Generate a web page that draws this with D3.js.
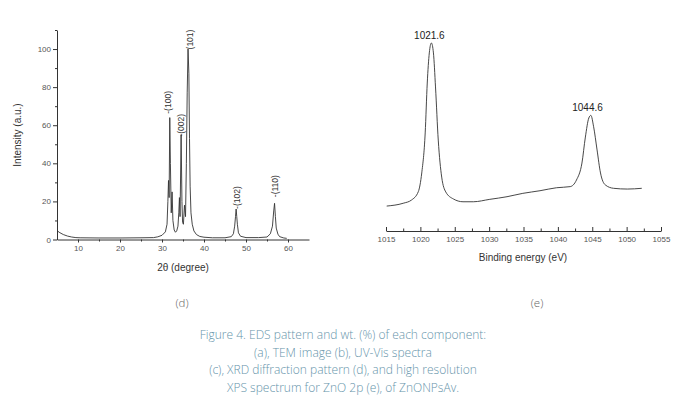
<!DOCTYPE html>
<html>
<head>
<meta charset="utf-8">
<script src="https://cdn.jsdelivr.net/npm/d3@7"></script>
<style>
  html, body { margin: 0; padding: 0; background: #fff; }
  svg { display: block; }
</style>
</head>
<body>
<svg id="chart" width="679" height="396"></svg>
<script>
// ---- XRD pattern (d) ----
const xrdTheta = [5.0, 5.5, 6.5, 7.5, 8.5, 9.5, 10.5, 15, 20, 25, 28, 29, 30, 30.8, 31.2, 31.4, 31.55, 31.7, 31.85, 32.0, 32.2, 32.4, 32.6, 32.9, 33.2, 33.5, 33.8, 34.0, 34.15, 34.3, 34.55, 34.75, 34.9, 35.1, 35.35, 35.6, 35.8, 36.0, 36.2, 36.4, 36.55, 36.7, 36.9, 37.2, 37.6, 38.2, 39, 40, 42, 45, 46.5, 47.0, 47.3, 47.5, 47.65, 47.8, 47.95, 48.2, 48.7, 50, 53, 55, 55.8, 56.3, 56.6, 56.8, 57.0, 57.2, 57.6, 58, 59, 59.7];
const xrdIntensity = [4.8, 3.8, 2.6, 1.8, 1.3, 1.0, 0.9, 0.8, 0.8, 0.9, 1.0, 1.4, 2.2, 4.0, 8, 20, 31, 22, 64, 40, 14, 25, 10, 5, 3.8, 4.5, 7, 14, 22, 12, 55, 20, 9, 8, 18, 12, 40, 77, 100, 87, 53, 28, 14, 8, 4.5, 2.6, 1.6, 1.2, 0.9, 0.9, 1.5, 3, 7, 12, 16, 12, 8, 3.5, 1.7, 1.0, 1.0, 1.3, 3, 7, 15, 19, 12, 6, 2.8, 1.5, 0.8, 0.6];
const xrdLabels = ["-(100)", "-(002)", "(101)", "-(102)", "-(110)"];
const xrdLabelTheta = [31.4, 34.5, 36.7, 47.9, 56.9];
const xrdLabelIntensity = [72, 60, 105, 22, 28];
const xrdXTicks = [10, 20, 30, 40, 50, 60];
const xrdYTicks = [0, 20, 40, 60, 80, 100];

// ---- XPS spectrum (e) ----
const xpsEnergy = [1015.1, 1017.5, 1018.7, 1019.7, 1020.2, 1020.7, 1021.0, 1021.3, 1021.6, 1021.9, 1022.2, 1022.6, 1023.1, 1023.7, 1024.8, 1026.2, 1027.7, 1030.1, 1032.6, 1034.9, 1037.4, 1039.8, 1041.8, 1042.7, 1043.5, 1044.0, 1044.5, 1044.8, 1045.2, 1045.7, 1046.2, 1046.9, 1048.1, 1050.1, 1052.2];
const xpsIntensity = [12.8, 14.3, 16.0, 20.5, 30.5, 51.9, 78.6, 94.7, 100, 94.7, 76.5, 48.1, 28.3, 20.3, 16.6, 15.1, 15.1, 16.4, 17.8, 19.6, 21.0, 22.6, 23.2, 26.7, 35.8, 49.7, 59.9, 61.3, 55.2, 42.8, 30.5, 24.1, 22.3, 21.9, 22.3];
const xpsPeakLabels = ["1021.6", "1044.6"];
const xpsPeakEnergy = [1021.6, 1044.6];
const xpsPeakIntensity = [100, 61.3];
const xpsXTicks = [1015, 1020, 1025, 1030, 1035, 1040, 1045, 1050, 1055];

// ---- Caption ----
const panelLabels = ["(d)", "(e)"];
const captionLines = [
  "Figure 4. EDS pattern and wt. (%) of each component:",
  "(a), TEM image (b), UV-Vis spectra",
  "(c), XRD diffraction pattern (d), and high resolution",
  "XPS spectrum for ZnO 2p (e), of ZnONPsAv."
];

const svg = d3.select("#chart");
const axisFont = "'Liberation Sans', Arial, sans-serif";

// ===== Left chart =====
const xL = d3.scaleLinear().domain([5, 65]).range([57, 309]);
const yL = d3.scaleLinear().domain([0, 110]).range([239.5, 30]);

const gL = svg.append("g");
const xAxisL = gL.append("g").attr("transform", `translate(0,${yL(0)})`)
  .call(d3.axisBottom(xL).tickValues(xrdXTicks).tickSize(3).tickPadding(3).tickSizeOuter(0));
gL.append("g").attr("transform", `translate(0,${yL(0)})`)
  .call(d3.axisBottom(xL).tickValues(d3.range(15, 65, 10)).tickSize(2).tickFormat("").tickSizeOuter(0))
  .select(".domain").remove();
const yAxisL = gL.append("g").attr("transform", `translate(${xL(5)},0)`)
  .call(d3.axisLeft(yL).tickValues(xrdYTicks).tickSize(4).tickPadding(2).tickSizeOuter(0));
gL.append("g").attr("transform", `translate(${xL(5)},0)`)
  .call(d3.axisLeft(yL).tickValues([10, 30, 50, 70, 90, 110]).tickSize(2).tickFormat("").tickSizeOuter(0))
  .select(".domain").remove();

[xAxisL, yAxisL].forEach(a => {
  a.selectAll("text").attr("font-family", axisFont).attr("font-size", 8).attr("fill", "#555");
});
gL.selectAll("path.domain, line").attr("stroke", "#333");

gL.append("text").attr("x", 183).attr("y", 271).attr("text-anchor", "middle")
  .attr("font-family", axisFont).attr("font-size", 10).attr("fill", "#333").text("2θ (degree)");
gL.append("text").attr("transform", "translate(21,135) rotate(-90)").attr("text-anchor", "middle")
  .attr("font-family", axisFont).attr("font-size", 10).attr("fill", "#333").text("Intensity (a.u.)");

const xrdData = xrdTheta.map((t, i) => [t, xrdIntensity[i]]);
gL.append("path").datum(xrdData)
  .attr("d", d3.line().x(d => xL(d[0])).y(d => yL(d[1])))
  .attr("fill", "none").attr("stroke", "#333").attr("stroke-width", 0.9);

xrdLabels.forEach((lab, i) => {
  gL.append("text")
    .attr("transform", `translate(${xL(xrdLabelTheta[i])},${yL(xrdLabelIntensity[i])}) rotate(-90)`)
    .attr("text-anchor", "middle").attr("dy", "0.35em")
    .attr("font-family", axisFont).attr("font-size", 8.5).attr("fill", "#333").text(lab);
});

// ===== Right chart =====
const xR = d3.scaleLinear().domain([1015, 1055]).range([386, 661]);
const yR = d3.scaleLinear().domain([0, 100]).range([230, 43]);
const gR = svg.append("g");
const xAxisR = gR.append("g").attr("transform", "translate(0,231)")
  .call(d3.axisBottom(xR).tickValues(xpsXTicks).tickFormat(d3.format("d")).tickSize(-4).tickPadding(5).tickSizeOuter(0));
gR.append("g").attr("transform", "translate(0,231)")
  .call(d3.axisBottom(xR).tickValues(d3.range(1017.5, 1055, 5)).tickSize(-2.5).tickFormat("").tickSizeOuter(0))
  .select(".domain").remove();
xAxisR.selectAll("text").attr("font-family", axisFont).attr("font-size", 8).attr("fill", "#555");
gR.selectAll("path.domain, line").attr("stroke", "#333");

gR.append("text").attr("x", 523).attr("y", 261).attr("text-anchor", "middle")
  .attr("font-family", axisFont).attr("font-size", 10).attr("fill", "#333").text("Binding energy (eV)");

const xpsData = xpsEnergy.map((e, i) => [e, xpsIntensity[i]]);
gR.append("path").datum(xpsData)
  .attr("d", d3.line().curve(d3.curveMonotoneX).x(d => xR(d[0])).y(d => yR(d[1])))
  .attr("fill", "none").attr("stroke", "#333").attr("stroke-width", 0.9);

xpsPeakLabels.forEach((lab, i) => {
  gR.append("text").attr("x", xR(xpsPeakEnergy[i]) - 2).attr("y", yR(xpsPeakIntensity[i]) - 4)
    .attr("text-anchor", "middle").attr("font-family", axisFont).attr("font-size", 10)
    .attr("fill", "#222").text(lab);
});

// ===== Panel labels & caption =====
const panelX = [182, 537];
panelLabels.forEach((lab, i) => {
  svg.append("text").attr("x", panelX[i]).attr("y", 307).attr("text-anchor", "middle")
    .attr("font-family", "'Open Sans', sans-serif").attr("font-size", 11.5).attr("font-weight", 300)
    .attr("fill", "#666").text(lab);
});
captionLines.forEach((line, i) => {
  svg.append("text").attr("x", 343).attr("y", 339 + i * 17.5).attr("text-anchor", "middle")
    .attr("font-family", "'Open Sans', sans-serif").attr("font-size", 12).attr("font-weight", 300)
    .attr("fill", "#6694aa").text(line);
});
</script>
</body>
</html>
